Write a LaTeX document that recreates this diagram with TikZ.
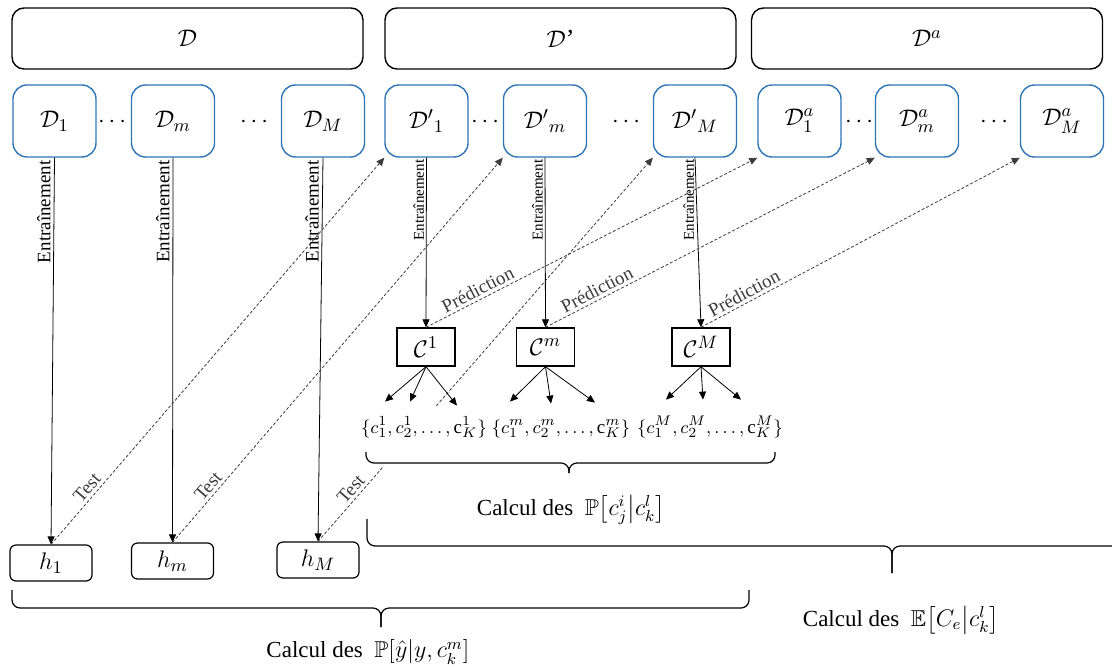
\documentclass[tikz,border=0pt]{standalone}
\usepackage{amsmath,amssymb}
\usepackage{fontspec}
\setmainfont{Liberation Serif}
\usetikzlibrary{arrows.meta,calc}
\definecolor{boxblue}{RGB}{46,117,182}
\definecolor{dashgray}{RGB}{60,60,60}

\begin{document}
\begin{tikzpicture}[x=0.5pt, y=-0.5pt,
    every node/.style={font=\fontsize{13}{15}\selectfont},
    topbox/.style={draw, line width=0.7pt, rounded corners=6pt, minimum width=175.5pt, minimum height=30.5pt},
    dbox/.style={draw=boxblue, line width=0.7pt, rounded corners=7pt, minimum width=41.5pt, minimum height=36pt},
    hbox/.style={draw, line width=0.6pt, rounded corners=3pt, minimum width=41pt, minimum height=18pt},
    cbox/.style={draw, line width=0.7pt, minimum width=29pt, minimum height=19pt},
    setnode/.style={inner sep=1pt, anchor=base, text height=12.5pt, text depth=15.5pt, font=\fontsize{9.5}{11}\selectfont},
    arr/.style={-{Triangle[length=4pt,width=3.5pt]}, line width=0.4pt},
    darr/.style={arr, dashgray, dash pattern=on 1.5pt off 1pt},
    lbl/.style={font=\fontsize{9.5}{11}\selectfont, inner sep=1.5pt},
    slbl/.style={font=\fontsize{7.5}{9}\selectfont, inner sep=1pt},
    calcnode/.style={font=\fontsize{11.5}{13}\selectfont},
    brc/.style={line width=0.6pt, rounded corners=4pt}]
\useasboundingbox (0,0) rectangle (1112,669);

% data sets
\node[topbox] (D)  at (187.5,38.5) {$\mathcal{D}$};
\node[topbox] (Dp) at (560.5,38.5) {$\mathcal{D}$’};
\node[topbox] (Da) at (927,38.5)   {$\mathcal{D}^a$};

% sub sets
\node[dbox] (D1)  at (54.5,121)  {$\mathcal{D}_1$};
\node[dbox] (Dm)  at (173,121)   {$\mathcal{D}_m$};
\node[dbox] (DM)  at (323,121)   {$\mathcal{D}_M$};
\node[dbox] (Dp1) at (426.5,121) {${\mathcal{D}'}_1$};
\node[dbox] (Dpm) at (545,121)   {${\mathcal{D}'}_m$};
\node[dbox] (DpM) at (695,121)   {${\mathcal{D}'}_M$};
\node[dbox] (Da1) at (799.5,121) {$\mathcal{D}^a_1$};
\node[dbox] (Dam) at (917,121)   {$\mathcal{D}^a_m$};
\node[dbox] (DaM) at (1062,121)  {$\mathcal{D}^a_M$};
\node (dots1) at (114,122) {$\cdots$};
\node (dots2) at (256,122) {$\cdots$};
\node (dots3) at (487,122) {$\cdots$};
\node (dots4) at (628,122) {$\cdots$};
\node (dots5) at (861,122) {$\cdots$};
\node (dots6) at (996,122) {$\cdots$};

% classifiers and models
\node[cbox] (C1) at (426,347)   {$\mathcal{C}^1$};
\node[cbox] (Cm) at (545.5,347) {$\mathcal{C}^m$};
\node[cbox] (CM) at (701,347)   {$\mathcal{C}^M$};
\node[hbox] (h1) at (51,563)    {$h_1$};
\node[hbox] (hm) at (172.5,561) {$h_m$};
\node[hbox] (hM) at (318,560)   {$h_M$};

% training
\draw[arr] (D1.south) -- (h1.north) node[pos=.14, rotate=90, anchor=south, lbl] {Entraînement};
\draw[arr] (Dm.south) -- (hm.north) node[pos=.14, rotate=90, anchor=south, lbl] {Entraînement};
\draw[arr] (DM.south) -- (hM.north) node[pos=.14, rotate=90, anchor=south, lbl] {Entraînement};
\draw[arr] (Dp1.south) -- (C1.north) node[pos=.25, rotate=90, anchor=south, slbl] {Entraînement};
\draw[arr] (Dpm.south) -- (Cm.north) node[pos=.25, rotate=90, anchor=south, slbl] {Entraînement};
\draw[arr] (DpM.south) -- (CM.north) node[pos=.25, rotate=90, anchor=south, slbl] {Entraînement};

% test
\draw[darr] (h1.north) -- (Dp1.south west) node[pos=.13, sloped, above, lbl] {Test};
\draw[darr] (hm.north) -- (Dpm.south west) node[pos=.13, sloped, above, lbl] {Test};
\draw[darr] (hM.north) -- (DpM.south west) node[pos=.12, sloped, above, lbl] {Test};

% prediction
\draw[darr] (C1.north) -- (Da1.south west) node[pos=.17, sloped, above, lbl] {Prédiction};
\draw[darr] (Cm.north) -- (Dam.south west) node[pos=.17, sloped, above, lbl] {Prédiction};
\draw[darr] (CM.north) -- (DaM.south west) node[pos=.15, sloped, above, lbl] {Prédiction};

% clusters
\node[setnode, fill=white] (s1) at (424,433) {$\{c^1_1, c^1_2, \ldots, \mathrm{c}^1_K\}$};
\node[setnode] (s2) at (561,433) {$\{c^m_1, c^m_2, \ldots, \mathrm{c}^m_K\}$};
\node[setnode] (s3) at (710,433) {$\{c^M_1, c^M_2, \ldots, \mathrm{c}^M_K\}$};
\foreach \dx/\dy in {-39/-4,-14/-4,33/0}
  \draw[arr] (C1.south) -- ($(s1.north)+(\dx,\dy)$);
\foreach \dx/\dy in {-51/-4,-10/-2,34/-3}
  \draw[arr] (Cm.south) -- ($(s2.north)+(\dx,\dy)$);
\foreach \dx/\dy in {-44/-6,-7/-6,31/-6}
  \draw[arr] (CM.south) -- ($(s3.north)+(\dx,\dy)$);

% braces
\draw[brc] (366,452) -- (366,463) -- (569,463) -- (569,473);
\draw[brc] (775,452) -- (775,463) -- (569,463) -- (569,473);
\node[calcnode] (calc1) at (571,510) {Calcul des~ $\mathbb{P}\bigl[c^i_j\big|c^l_k\bigr]$};

\draw[brc] (367,519) -- (367,546) -- (892,546) -- (892,573);
\draw[brc] (1130,546) -- (892,546) -- (892,573);
\node[calcnode] (calc2) at (901,620) {Calcul des~ $\mathbb{E}\bigl[C_e\big|c^l_k\bigr]$};

\draw[brc] (12,590) -- (12,608) -- (381,608) -- (381,627);
\draw[brc] (749,590) -- (749,608) -- (381,608) -- (381,627);
\node[calcnode] (calc3) at (368,652) {Calcul des~ $\mathbb{P}[\hat{y}|y,c^m_k]$};
\end{tikzpicture}
\end{document}
